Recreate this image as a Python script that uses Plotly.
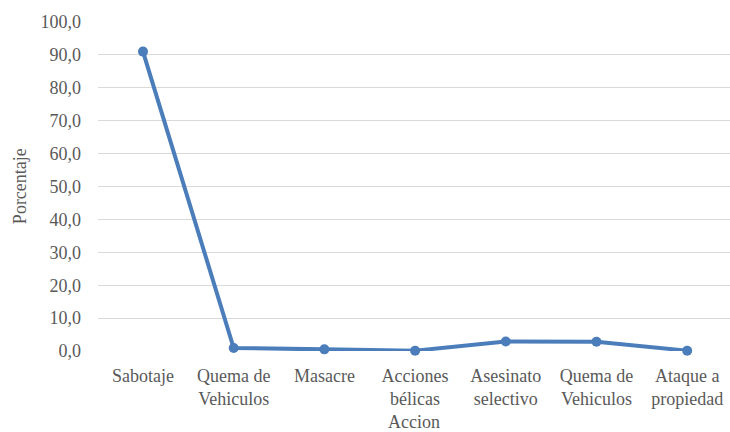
import plotly.graph_objects as go

# Share of incidents by type of action
categories = [
    "Sabotaje",
    "Quema de<br>Vehiculos",
    "Masacre",
    "Acciones<br>bélicas",
    "Asesinato<br>selectivo",
    "Quema de<br>Vehiculos",
    "Ataque a<br>propiedad",
]
porcentaje = [91.0, 0.9, 0.5, 0.1, 2.9, 2.8, 0.1]
y_ticks = [0, 10, 20, 30, 40, 50, 60, 70, 80, 90, 100]

positions = list(range(len(categories)))

text_color = "#595959"
font_family = "Liberation Serif"
font_size = 18

fig = go.Figure(
    go.Scatter(
        x=positions,
        y=porcentaje,
        mode="lines+markers",
        line=dict(color="#4A7DBA", width=4),
        marker=dict(color="#4A7DBA", size=10),
        cliponaxis=False,
        hoverinfo="x+y",
    )
)

fig.update_layout(
    width=730,
    height=432,
    margin=dict(l=98, r=0, t=22, b=81),
    paper_bgcolor="white",
    plot_bgcolor="white",
    separators=",.",
    showlegend=False,
    font=dict(family=font_family, size=font_size, color=text_color),
    annotations=[
        dict(
            text="Accion",
            xref="paper", yref="paper",
            x=0.5, y=-0.217,
            xanchor="center", yanchor="middle",
            showarrow=False,
            font=dict(family=font_family, size=font_size, color=text_color),
        ),
        dict(
            text="Porcentaje",
            xref="paper", yref="paper",
            x=-0.124, y=0.5,
            xanchor="center", yanchor="middle",
            textangle=-90,
            showarrow=False,
            font=dict(family=font_family, size=font_size, color=text_color),
        ),
    ],
)

fig.update_xaxes(
    range=[-0.496, 6.472],
    tickvals=positions,
    ticktext=categories,
    showgrid=False,
    zeroline=False,
    showline=False,
    ticks="",
    ticklabelstandoff=12,
)

fig.update_yaxes(
    range=[0, 100],
    tickvals=y_ticks,
    tickformat=".1f",
    showgrid=True,
    gridcolor="#d9d9d9",
    gridwidth=1,
    zeroline=False,
    showline=False,
    ticks="",
    ticklabelstandoff=16,
)

fig.write_html("out.html")
